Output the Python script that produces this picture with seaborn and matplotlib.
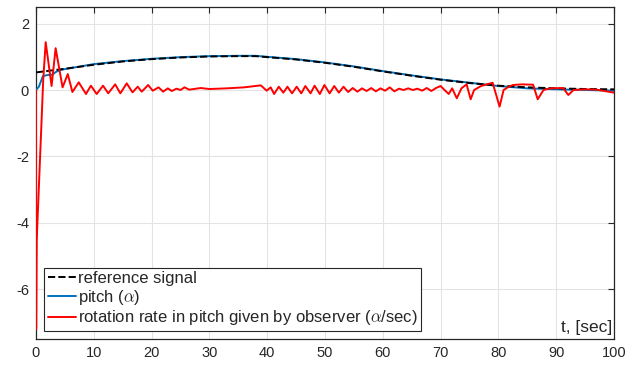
import numpy as np
import pandas as pd
import seaborn as sns
import matplotlib.pyplot as plt

# reference signal (dashed)
t_ref = [0, 5, 10, 15, 20, 25, 30, 35, 38, 40, 45, 50, 55, 60, 65, 70, 75, 80, 85, 90, 95, 100]
y_ref = [0.53, 0.64, 0.76, 0.86, 0.93, 0.98, 1.01, 1.02, 1.02, 0.99, 0.92, 0.82, 0.70, 0.56,
         0.43, 0.31, 0.21, 0.13, 0.08, 0.05, 0.03, 0.02]

# pitch
t_pitch = [0, 0.5, 1.2, 2.0, 2.8, 3.5, 4.2, 5, 6, 10, 15, 20, 25, 30, 35, 38, 40, 45, 50, 55,
           60, 65, 70, 75, 80, 85, 90, 95, 100]
y_pitch = [0, 0.1, 0.42, 0.45, 0.46, 0.55, 0.6, 0.63, 0.66, 0.78, 0.87, 0.94, 0.99, 1.02, 1.03,
           1.03, 1.0, 0.93, 0.83, 0.71, 0.57, 0.44, 0.32, 0.22, 0.12, 0.05, 0.02, 0.0, -0.02]

# rotation rate from observer
t_rate = [0, 0.03, 0.12, 1.25, 1.68, 2.7, 3.4, 4.6, 5.5, 6.3, 7.4, 8.65, 9.5, 10.5, 11.6, 12.5,
          13.7, 14.6, 15.7, 16.7, 17.6, 18.3, 19.4, 20.2, 21.2, 22.0, 22.8, 23.5, 24.3, 25.0,
          25.7, 26.5, 27.3, 28.5, 30, 33, 36, 38.9,
          39.9, 40.6, 41.2, 42.0, 42.8, 43.5, 44.3, 45.1, 45.9, 46.6, 47.5, 48.2, 49.1, 49.9,
          50.8, 51.6, 52.4, 53.2, 54.0, 54.8, 55.6, 56.4, 57.2, 58.0, 58.8, 59.6, 60.4, 61.2,
          62.0, 62.8, 63.6, 64.4, 65.2, 66.0, 66.8, 67.6, 68.4, 69.2, 70.0, 70.8, 71.4, 72.0,
          72.8, 73.6, 74.5, 75.2, 75.8, 77.0, 79.0, 80.2, 80.9, 81.8, 82.5, 84.0, 86.0, 86.8,
          87.8, 89.0, 91.2, 92.1, 93.0, 95.0, 97.0, 100]
y_rate = [0, -7.2, -4.55, 0.3, 1.44, 0.12, 1.26, 0.08, 0.48, -0.06, 0.23, -0.12, 0.13, -0.12,
          0.13, -0.1, 0.17, -0.1, 0.2, -0.07, 0.1, -0.05, 0.15, -0.02, 0.08, -0.05, 0.05, -0.03,
          0.04, 0.0, 0.08, 0.01, 0.03, 0.06, 0.03, 0.05, 0.08, 0.14,
          -0.02, 0.08, -0.12, 0.1, -0.08, 0.1, -0.1, 0.1, -0.1, 0.12, -0.1, 0.13, -0.12, 0.15,
          -0.1, 0.12, -0.08, 0.1, -0.06, 0.06, -0.05, 0.05, -0.03, 0.06, -0.04, 0.05, -0.02, 0.08,
          -0.04, 0.04, 0.0, 0.05, 0.0, 0.04, -0.02, 0.06, -0.03, 0.06, 0.12, -0.02, -0.12, 0.05,
          -0.25, 0.05, 0.17, -0.28, 0.0, 0.12, 0.22, -0.5, 0.0, 0.1, 0.15, 0.17, 0.16, -0.28,
          0.0, 0.05, 0.06, -0.15, 0.0, 0.02, 0.01, -0.08]

x_ticks = [0, 10, 20, 30, 40, 50, 60, 70, 80, 90, 100]
y_ticks = [-6, -4, -2, 0, 2]

sns.set_style("whitegrid")
plt.rcParams['font.family'] = ['Liberation Sans', 'DejaVu Sans']
plt.rcParams['axes.unicode_minus'] = False
plt.rcParams['mathtext.fontset'] = 'cm'

fig = plt.figure(figsize=(6.38, 3.69), dpi=100)
ax = fig.add_axes([0.0564, 0.0813, 0.906, 0.8997])

df_ref = pd.DataFrame({'t': t_ref, 'v': y_ref})
df_pitch = pd.DataFrame({'t': t_pitch, 'v': y_pitch})
df_rate = pd.DataFrame({'t': t_rate, 'v': y_rate})

sns.lineplot(data=df_ref, x='t', y='v', ax=ax, color='black', linestyle='--', lw=1.4,
             estimator=None, sort=False, label='reference signal', zorder=4)
sns.lineplot(data=df_pitch, x='t', y='v', ax=ax, color='#0072BD', lw=1.4,
             estimator=None, sort=False, label=r'pitch ($\alpha$)', zorder=3)
sns.lineplot(data=df_rate, x='t', y='v', ax=ax, color='#FF0000', lw=1.4,
             estimator=None, sort=False,
             label=r'rotation rate in pitch given by observer ($\alpha$/sec)', zorder=5)

ax.set_xlim(0, 100)
ax.set_ylim(-7.5, 2.5)
ax.set_xticks(x_ticks)
ax.set_yticks(y_ticks)
ax.grid(True, color='#e3e3e3', lw=0.8)
ax.set_facecolor('white')
for s in ax.spines.values():
    s.set_color('#262626')
    s.set_linewidth(0.9)
    s.set_visible(True)
ax.tick_params(direction='in', length=4, width=0.8, top=True, right=True,
               labelsize=10.5, colors='#262626', pad=5)
ax.set_ylabel('')
ax.set_xlabel('t, [sec]', fontsize=12.5, ha='right', va='bottom')
ax.xaxis.set_label_coords(0.997, 0.012)

leg = ax.legend(loc='lower left', fontsize=12, frameon=True, fancybox=False,
                edgecolor='#262626', handlelength=1.7, handletextpad=0.15,
                labelspacing=0.1, borderpad=0.2, borderaxespad=0.5)
leg.get_frame().set_linewidth(0.8)
leg.get_frame().set_alpha(1)

plt.savefig('out.png', dpi=100)
plt.close()
